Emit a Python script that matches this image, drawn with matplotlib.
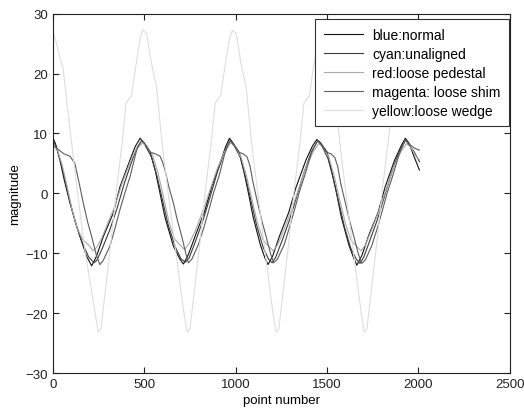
import matplotlib
matplotlib.use("Agg")
import matplotlib.pyplot as plt

plt.rcParams["font.family"] = ["Liberation Sans", "DejaVu Sans"]
plt.rcParams["font.size"] = 9.5

# series (point number, magnitude)
blue_x = [0, 15, 38, 60, 93, 120, 148, 184, 212,
          237, 276, 330, 367, 422, 450, 477,
          497, 531, 560, 586, 613, 659, 695, 714,
          740, 780, 830, 870, 920, 945, 966,
          985, 1020, 1045, 1070, 1095, 1135, 1160, 1177,
          1202, 1240, 1290, 1330, 1385, 1420, 1444,
          1465, 1500, 1525, 1552, 1578, 1620, 1648, 1663,
          1690, 1728, 1780, 1818, 1870, 1905, 1928,
          1950, 1975, 2005]
blue_y = [9.3, 8.2, 5.6, 2.5, -1.6, -4.5, -7.2, -10.5, -12.1,
          -10.6, -7.2, -3.3, 1.1, 5.6, 7.8, 9.2,
          8.5, 7.0, 3.8, 0.0, -4.0, -8.8, -11.0, -11.8,
          -10.3, -7.0, -3.0, 1.2, 5.5, 7.8, 9.2,
          8.4, 6.8, 3.6, 0.0, -3.9, -8.6, -10.8, -11.9,
          -10.5, -7.1, -3.2, 1.0, 5.6, 7.9, 9.0,
          8.4, 6.9, 3.7, 0.0, -4.0, -8.7, -11.0, -12.0,
          -10.4, -7.0, -3.1, 1.1, 5.6, 7.9, 9.2,
          8.3, 6.2, 3.9]

cyan_x = [0, 20, 45, 70, 100, 130, 160, 195, 225,
          240, 270, 310, 350, 390, 430, 460, 485,
          505, 540, 570, 600, 630, 670, 700, 725,
          745, 780, 820, 860, 900, 940, 972,
          990, 1025, 1055, 1085, 1115, 1150, 1180, 1200,
          1220, 1255, 1295, 1335, 1375, 1415, 1450,
          1470, 1505, 1535, 1565, 1595, 1630, 1660, 1680,
          1700, 1735, 1775, 1815, 1855, 1895, 1930,
          1950, 1975, 2005]
cyan_y = [8.8, 7.6, 5.0, 1.8, -2.2, -5.6, -8.2, -10.6, -11.6,
          -11.2, -9.2, -6.2, -2.6, 1.6, 5.2, 7.6, 8.8,
          8.0, 6.0, 2.8, -1.2, -5.2, -9.0, -10.9, -11.5,
          -10.8, -8.0, -4.6, -0.6, 3.6, 7.0, 8.9,
          8.1, 6.0, 2.6, -1.4, -5.4, -9.0, -11.0, -11.6,
          -10.6, -7.8, -4.4, -0.4, 3.6, 7.0, 8.8,
          8.0, 5.8, 2.4, -1.6, -5.6, -9.2, -11.0, -11.7,
          -10.7, -7.8, -4.4, -0.4, 3.6, 7.0, 8.9,
          8.0, 7.0, 5.3]

red_x = [0, 25, 50, 75, 105, 135, 165, 195, 220,
         240, 265, 300, 340, 380, 420, 455, 490,
         510, 545, 575, 605, 635, 665, 695, 720,
         745, 780, 820, 860, 900, 940, 975,
         995, 1030, 1060, 1090, 1120, 1150, 1180, 1205,
         1230, 1265, 1305, 1345, 1385, 1425, 1455,
         1475, 1510, 1540, 1570, 1600, 1630, 1660, 1685,
         1710, 1745, 1785, 1825, 1865, 1905, 1935,
         1960, 1985, 2005]
red_y = [8.2, 7.2, 4.8, 1.5, -2.8, -6.0, -7.8, -8.6, -9.6,
         -9.0, -7.6, -5.0, -2.0, 1.8, 5.0, 7.4, 8.4,
         8.0, 6.4, 3.4, -0.6, -4.8, -7.6, -8.6, -9.4,
         -8.4, -6.2, -3.0, 0.6, 4.2, 7.0, 8.5,
         7.8, 6.0, 2.8, -1.2, -5.0, -7.8, -8.8, -9.6,
         -8.6, -6.0, -2.8, 0.8, 4.4, 7.0, 8.3,
         7.8, 6.0, 2.8, -1.2, -5.0, -7.8, -8.8, -9.6,
         -8.6, -6.0, -2.8, 0.8, 4.4, 7.0, 8.3,
         7.6, 6.2, 5.6]

magenta_x = [0, 30, 60, 93, 120, 145, 166, 190, 212, 239, 257,
             275, 312, 340, 367, 395, 422, 458, 486,
             505, 531, 560, 586, 600, 613, 635, 659, 680, 705, 725, 741,
             760, 795, 825, 855, 880, 910, 940, 968,
             990, 1015, 1040, 1062, 1078, 1095, 1120, 1145, 1170, 1190, 1208,
             1228, 1265, 1295, 1325, 1350, 1380, 1415, 1448,
             1470, 1495, 1520, 1542, 1558, 1575, 1600, 1625, 1650, 1670, 1690,
             1710, 1745, 1775, 1805, 1830, 1860, 1895, 1928,
             1950, 1975, 2005]
magenta_y = [8.0, 7.3, 6.6, 6.2, 5.0, 1.5, -1.6, -4.8, -7.2, -10.5, -11.9,
             -11.2, -8.8, -5.8, -2.7, 0.2, 2.8, 7.2, 8.9,
             8.2, 6.9, 6.6, 6.2, 5.2, 3.9, 1.0, -1.6, -4.4, -7.2, -9.8, -11.6,
             -11.0, -8.6, -5.8, -2.6, 0.2, 3.0, 6.6, 8.8,
             8.0, 6.9, 6.6, 6.1, 4.6, 1.8, -1.6, -4.8, -7.6, -10.0, -11.6,
             -11.0, -8.6, -5.6, -2.4, 0.4, 3.2, 6.8, 8.8,
             8.0, 6.9, 6.6, 6.0, 4.5, 1.6, -1.6, -4.8, -7.6, -10.0, -11.7,
             -11.1, -8.7, -5.8, -2.6, 0.2, 3.0, 6.6, 8.9,
             8.2, 7.6, 7.2]

yellow_x = [0, 20, 40, 55, 75, 100, 135, 175, 215, 248,
            263, 288, 318, 348, 381, 400, 417, 430, 452, 477, 492,
            513, 537, 568, 595, 637, 682, 717, 735,
            750, 775, 805, 835, 868, 888, 905, 918, 940, 966, 982,
            1003, 1027, 1058, 1085, 1127, 1170, 1204, 1221,
            1236, 1261, 1291, 1321, 1354, 1373, 1390, 1403, 1425, 1450, 1465,
            1486, 1510, 1541, 1568, 1609, 1653, 1687, 1703,
            1718, 1743, 1773, 1803, 1836, 1855, 1872, 1885, 1907, 1932, 1947,
            1968, 1992, 2000]
yellow_y = [27.0, 25.0, 22.5, 21.0, 15.5, 9.0, 0.0, -9.5, -17.0, -23.2,
            -22.6, -16.0, -8.0, 0.8, 9.0, 15.0, 15.8, 16.3, 21.0, 25.8, 27.3,
            26.7, 22.0, 17.6, 8.9, -1.5, -12.0, -20.0, -23.2,
            -22.6, -16.0, -8.0, 0.8, 9.0, 15.0, 15.8, 16.3, 21.0, 25.8, 27.2,
            26.7, 22.0, 17.6, 8.9, -1.5, -12.0, -20.0, -23.2,
            -22.6, -16.0, -8.0, 0.8, 9.0, 15.0, 15.8, 16.3, 21.0, 25.8, 27.2,
            26.7, 22.0, 17.6, 8.9, -1.5, -12.0, -20.0, -23.2,
            -22.6, -16.0, -8.0, 0.8, 9.0, 15.0, 15.8, 16.3, 21.0, 25.8, 27.2,
            26.7, 22.0, 20.8]

labels = ["blue:normal", "cyan:unaligned", "red:loose pedestal",
          "magenta: loose shim", "yellow:loose wedge"]

fig = plt.figure(figsize=(5.24, 4.14), dpi=100)
ax = fig.add_axes([0.101, 0.0966, 0.872, 0.868])

ax.plot(blue_x, blue_y, color="#111111", lw=0.8, label=labels[0])
ax.plot(cyan_x, cyan_y, color="#3c3c3c", lw=0.8, label=labels[1])
ax.plot(red_x, red_y, color="#ababab", lw=0.8, label=labels[2])
ax.plot(magenta_x, magenta_y, color="#5e5e5e", lw=0.8, label=labels[3])
ax.plot(yellow_x, yellow_y, color="#dedede", lw=0.8, label=labels[4])

ax.set_xlim(0, 2500)
ax.set_ylim(-30, 30)
ax.set_xticks([0, 500, 1000, 1500, 2000, 2500])
ax.set_yticks([-30, -20, -10, 0, 10, 20, 30])
ax.tick_params(direction="in", top=True, right=True, length=4, width=0.8,
               colors="#222222", labelsize=9.5)
for s in ax.spines.values():
    s.set_color("#222222")
    s.set_linewidth(0.8)

ax.set_xlabel("point number", labelpad=3)
ax.set_ylabel("magnitude", labelpad=3)

leg = ax.legend(loc="upper right", bbox_to_anchor=(0.998, 0.984),
                borderaxespad=0, fancybox=False, fontsize=10,
                framealpha=1, edgecolor="#333333", handlelength=2.8,
                handletextpad=0.7, labelspacing=0.36, borderpad=0.6)
leg.get_frame().set_linewidth(0.8)

fig.savefig("out.png", dpi=100)
